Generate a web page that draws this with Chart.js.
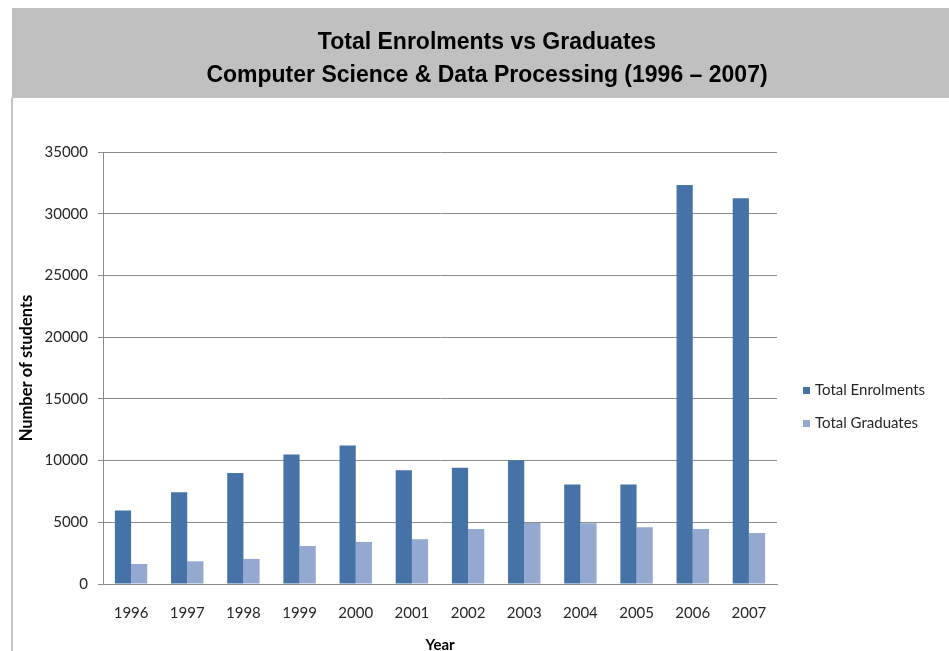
<!DOCTYPE html>
<html>
<head>
<meta charset="utf-8">
<script src="https://cdn.jsdelivr.net/npm/chart.js@4/dist/chart.umd.min.js"></script>
<style>
html,body{margin:0;padding:0;background:#fff;overflow:hidden}
#wrap{position:absolute;left:0;top:0;width:949px;height:651px}
</style>
</head>
<body>
<div id="wrap"><canvas id="c" width="949" height="651"></canvas></div>
<script>
// ---- data ----
const years = ['1996','1997','1998','1999','2000','2001','2002','2003','2004','2005','2006','2007'];
const enrolments = [5950, 7440, 9000, 10490, 11220, 9220, 9410, 10030, 8060, 8060, 32330, 31250];
const graduates  = [1620, 1840, 2030, 3080, 3410, 3630, 4460, 4950, 4920, 4600, 4460, 4140];
const seriesNames = ['Total Enrolments', 'Total Graduates'];
const titleLines = ['Total Enrolments vs Graduates', 'Computer Science & Data Processing (1996 \u2013 2007)'];
const yAxisTitle = 'Number of students';
const xAxisTitle = 'Year';
const yMin = 0, yMax = 35000, yStep = 5000;

const colors = ['#4572A7', '#95A9D0'];

const framePlugin = {
  id: 'frame',
  beforeDraw(chart) {
    const ctx = chart.ctx;
    ctx.save();
    ctx.fillStyle = '#ffffff';
    ctx.fillRect(0, 0, chart.width, chart.height);
    // title band
    ctx.fillStyle = '#c0c0c0';
    ctx.fillRect(12, 8, chart.width - 12, 90);
    // left frame line
    ctx.fillStyle = '#c4c4c4';
    ctx.fillRect(11, 98, 2, chart.height - 98);
    // title text
    ctx.fillStyle = '#000000';
    ctx.font = 'bold 23px "Liberation Sans", Arial, sans-serif';
    ctx.textAlign = 'center';
    ctx.textBaseline = 'middle';
    ctx.fillText(titleLines[0], 487, 43);
    ctx.fillText(titleLines[1], 487, 76);
    ctx.restore();
  },
  afterDraw(chart) {
    const ctx = chart.ctx;
    ctx.save();
    ctx.font = '15px Lato, sans-serif';
    ctx.textAlign = 'left';
    ctx.textBaseline = 'middle';
    chart.data.datasets.forEach((ds, i) => {
      const cy = 390.5 + i * 33;
      ctx.fillStyle = ds.backgroundColor;
      ctx.fillRect(803, cy - 3.5, 7, 7);
      ctx.fillStyle = '#262626';
      ctx.fillText(ds.label, 815, cy);
    });
    ctx.restore();
  }
};

new Chart(document.getElementById('c'), {
  type: 'bar',
  data: {
    labels: years,
    datasets: [
      { label: seriesNames[0], data: enrolments, backgroundColor: colors[0], borderWidth: 0 },
      { label: seriesNames[1], data: graduates, backgroundColor: colors[1], borderWidth: 0 }
    ]
  },
  options: {
    responsive: false,
    animation: false,
    devicePixelRatio: 1,
    datasets: { bar: { categoryPercentage: 0.577, barPercentage: 1.0 } },
    layout: { padding: { top: 152, right: 172, left: 0, bottom: 0 } },
    plugins: {
      legend: { display: false },
      title: { display: false },
      tooltip: { enabled: false }
    },
    scales: {
      x: {
        grid: { display: false, drawTicks: false },
        border: { display: true, color: '#8c8c8c', width: 1 },
        ticks: { color: '#262626', font: { family: 'Lato', size: 15 }, padding: 20, maxRotation: 0 },
        title: { display: true, text: xAxisTitle, color: '#000', font: { family: 'Lato', size: 15, weight: 'bold', lineHeight: '12px' }, padding: { top: 0, bottom: 0 } },
        afterFit(s) { s.height = 67; }
      },
      y: {
        min: yMin, max: yMax,
        ticks: { stepSize: yStep, color: '#262626', font: { family: 'Lato', size: 15 }, padding: 10,
                 callback: (v) => String(v) },
        grid: { color: '#8c8c8c', lineWidth: 1, tickLength: 5, drawTicks: true },
        border: { display: true, color: '#8c8c8c', width: 1 },
        title: { display: true, text: yAxisTitle, color: '#000', font: { family: 'Lato', size: 16.5, weight: 'bold', lineHeight: '14px' }, padding: { top: 20, bottom: 0 } },
        afterFit(s) { s.width = 103; }
      }
    }
  },
  plugins: [framePlugin]
});
</script>
</body>
</html>
